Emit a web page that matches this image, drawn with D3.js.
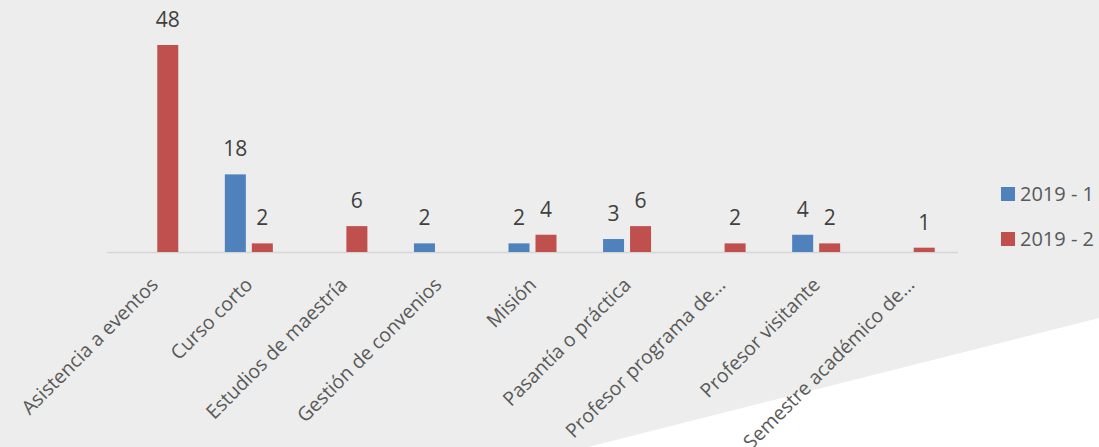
<!DOCTYPE html>
<html>
<head>
<meta charset="utf-8">
<script src="https://cdn.jsdelivr.net/npm/d3@7"></script>
<style>
	body { margin: 0; background: #ecedec; }
	svg { display: block; font-family: "Open Sans", sans-serif; }
</style>
</head>
<body>
<svg id="chart" width="1099" height="447"></svg>
<script>
// categories and the two series (null = no bar)
const categories = [
	"Asistencia a eventos", "Curso corto", "Estudios de maestría", "Gestión de convenios",
	"Misión", "Pasantía o práctica", "Profesor programa de...", "Profesor visitante",
	"Semestre académico de..."
];
const series_names = ["2019 - 1", "2019 - 2"];
const values_2019_1 = [null, 18, null, 2, 2, 3, null, 4, null];
const values_2019_2 = [48, 2, 6, null, 4, 6, 2, 2, 1];
const colors = ["#4f81bd", "#c0504d"];

const svg = d3.select("#chart");
const W = 1099, H = 447;

// background: light grey with a white wedge bottom right
svg.append("rect").attr("width", W).attr("height", H).attr("fill", "#ecedec");
svg.append("polygon")
	.attr("points", [[588, H], [W, 318], [W, H]].map(p => p.join(",")).join(" "))
	.attr("fill", "#ffffff");

const base_y = 252;
const x = d3.scaleBand().domain(categories).range([107, 958]).padding(0);
const x1 = d3.scaleBand().domain(series_names).range([-24, 24]).paddingInner(0.222);
const y = d3.scaleLinear().domain([0, 48]).range([base_y, 45]);

// baseline
svg.append("line")
	.attr("x1", x.range()[0]).attr("x2", x.range()[1])
	.attr("y1", base_y + 0.5).attr("y2", base_y + 0.5)
	.attr("stroke", "#d6d6d6").attr("stroke-width", 1.5);

const rows = categories.map((c, i) => ({
	cat: c,
	vals: [values_2019_1[i], values_2019_2[i]]
}));

const groups = svg.selectAll("g.cat")
	.data(rows)
	.enter().append("g")
	.attr("class", "cat")
	.attr("transform", d => `translate(${x(d.cat) + x.bandwidth() / 2},0)`);

const bars = groups.selectAll("g.bar")
	.data(d => d.vals.map((v, k) => ({ name: series_names[k], v: v, k: k })).filter(b => b.v != null))
	.enter().append("g").attr("class", "bar");

bars.append("rect")
	.attr("x", b => x1(b.name))
	.attr("width", x1.bandwidth())
	.attr("y", b => y(b.v))
	.attr("height", b => base_y - y(b.v))
	.attr("fill", b => colors[b.k]);

bars.append("text")
	.attr("x", b => x1(b.name) + x1.bandwidth() / 2)
	.attr("y", b => y(b.v) - 18)
	.attr("text-anchor", "middle")
	.attr("font-size", 21)
	.attr("fill", "#404040")
	.text(b => b.v);

// rotated category labels
svg.selectAll("text.cat-label")
	.data(categories)
	.enter().append("text")
	.attr("class", "cat-label")
	.attr("transform", d => `translate(${x(d) + x.bandwidth() / 2 + 5},${base_y + 34}) rotate(-45)`)
	.attr("text-anchor", "end")
	.attr("font-size", 19.5)
	.attr("fill", "#595959")
	.text(d => d);

// legend
const legend = svg.selectAll("g.legend")
	.data(series_names)
	.enter().append("g")
	.attr("class", "legend")
	.attr("transform", (d, i) => `translate(1001,${187 + i * 45})`);

legend.append("rect")
	.attr("width", 14).attr("height", 14)
	.attr("fill", (d, i) => colors[i]);

legend.append("text")
	.attr("x", 19).attr("y", 14)
	.attr("font-size", 20)
	.attr("fill", "#595959")
	.text(d => d);
</script>
</body>
</html>
